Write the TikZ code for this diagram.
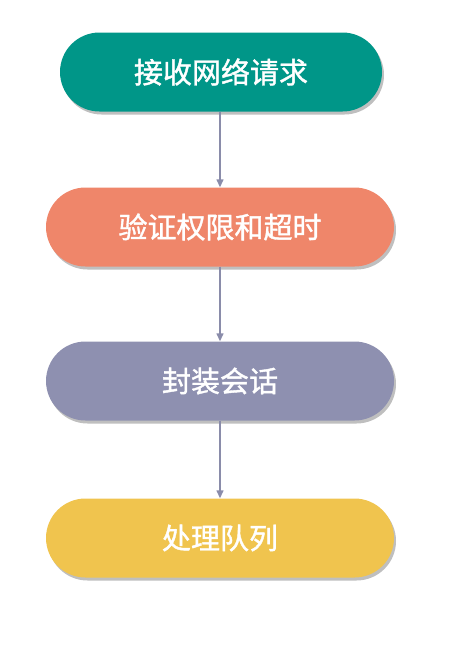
\documentclass[tikz,border=0pt]{standalone}
\usepackage{fontspec}
\newfontfamily\cjk[FakeBold=1.3]{Noto Sans CJK SC}
\usetikzlibrary{shadows,arrows.meta}
\definecolor{cteal}{HTML}{009688}
\definecolor{corange}{HTML}{EF866A}
\definecolor{cpurple}{HTML}{8E90B0}
\definecolor{cyellow}{HTML}{F0C44E}
\definecolor{carrow}{HTML}{8A8CAA}
\tikzset{
  stage/.style={rectangle, rounded corners=39.5pt, minimum height=79pt, inner sep=0pt,
    text=white, font=\cjk\fontsize{29}{32}\selectfont,
    drop shadow={shadow xshift=2pt, shadow yshift=-3pt, opacity=0.25, fill=black}},
  flow/.style={draw=carrow, line width=1.4pt, -{Triangle[length=8pt,width=7pt]}}
}
\begin{document}
\begin{tikzpicture}[x=1pt,y=1pt]
\useasboundingbox (0,0) rectangle (453,-659);
\node[stage, fill=cteal, minimum width=322pt] (n1) at (221,-72) {接收网络请求};
\node[stage, fill=corange, minimum width=348pt] (n2) at (220,-227) {验证权限和超时};
\node[stage, fill=cpurple, minimum width=348pt] (n3) at (220,-381) {封装会话};
\node[stage, fill=cyellow, minimum width=348pt] (n4) at (220,-538) {处理队列};
\draw[flow] (n1.south -| 220,0) -- (n2.north -| 220,0);
\draw[flow] (n2) -- (n3);
\draw[flow] (n3) -- (n4);
\end{tikzpicture}
\end{document}
